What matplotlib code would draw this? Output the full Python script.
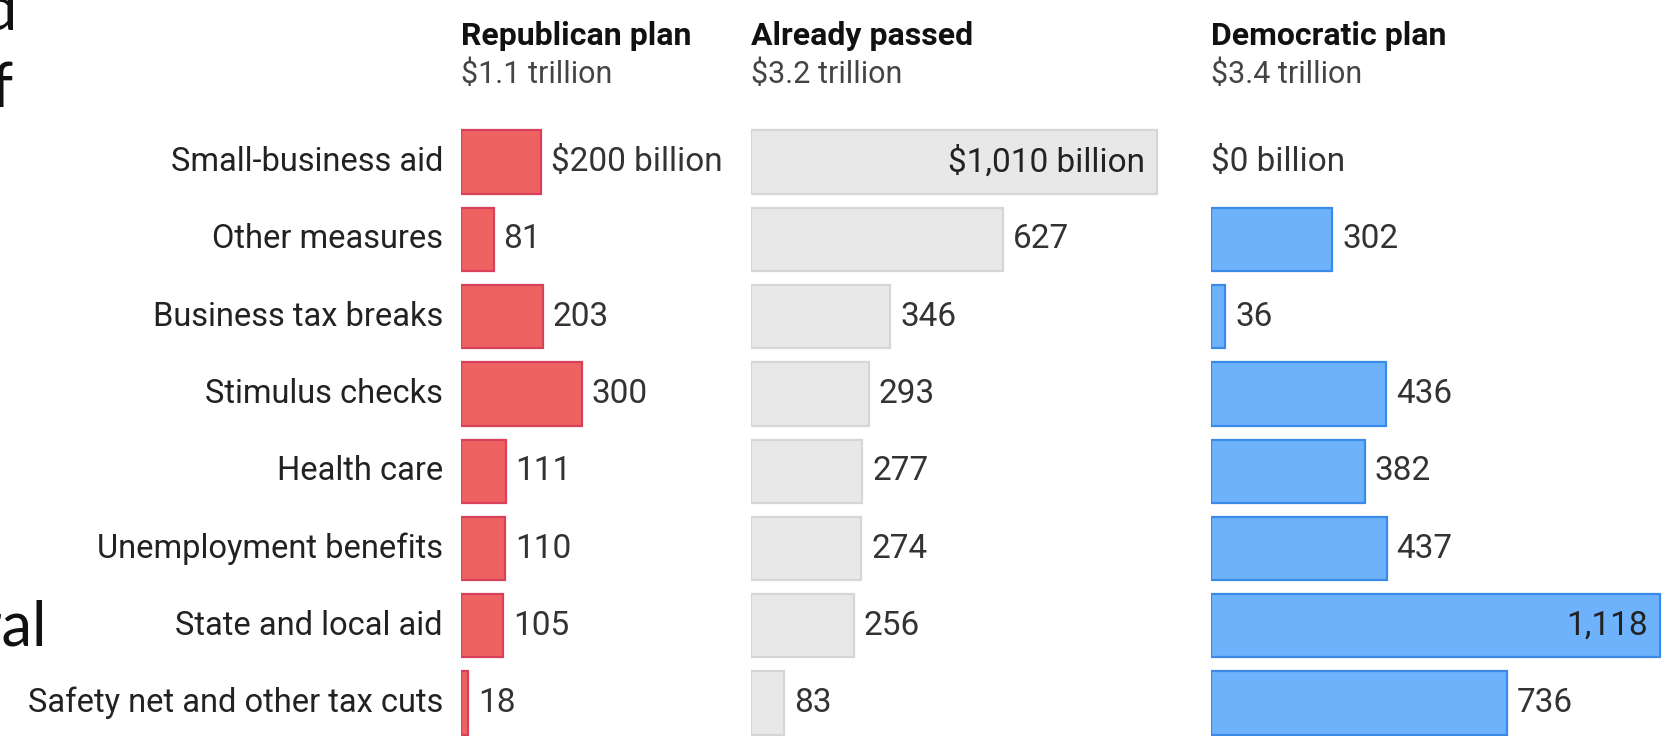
import matplotlib
matplotlib.use("Agg")
import matplotlib.pyplot as plt

# data (billions of dollars)
categories = ["Small-business aid", "Other measures", "Business tax breaks", "Stimulus checks",
              "Health care", "Unemployment benefits", "State and local aid", "Safety net and other tax cuts"]
republican = [200, 81, 203, 300, 111, 110, 105, 18]
passed = [1010, 627, 346, 293, 277, 274, 256, 83]
democratic = [0, 302, 36, 436, 382, 437, 1118, 736]
titles = ["Republican plan", "Already passed", "Democratic plan"]
totals = ["$1.1 trillion", "$3.2 trillion", "$3.4 trillion"]

W, H = 1668, 736
PX_PER_BN = 0.402
ROW0, PITCH = 162, 77.3

plt.rcParams["font.family"] = ["Roboto", "DejaVu Sans"]
fig = plt.figure(figsize=(W / 100, H / 100), dpi=100)
fig.patch.set_facecolor("white")

panels = [
    # left px, width px, fill, edge, values
    (461, 250, "#ee6262", "#d9415a", republican),
    (751, 450, "#e8e8e8", "#d6d6d6", passed),
    (1211, 457, "#6db2fa", "#3a8ae8", democratic),
]

ylim = ((H - ROW0) / PITCH, -ROW0 / PITCH)
for k, (left, width, fc, ec, vals) in enumerate(panels):
    ax = fig.add_axes([left / W, 0, width / W, 1])
    ax.set_xlim(0, width / PX_PER_BN)
    ax.set_ylim(*ylim)
    ax.axis("off")
    lw = [0 if v == 0 else 1.6 for v in vals]
    ax.barh(range(len(vals)), vals, height=0.82, left=0, color=fc, edgecolor=ec, linewidth=lw)
    for i, v in enumerate(vals):
        s = f"{v:,}"
        if i == 0:
            s = f"${s} billion"
        if v > 900:
            ax.text(v - 12 / PX_PER_BN, i, s, ha="right", va="center", fontsize=24, color="#222222")
        else:
            pad = 10 / PX_PER_BN if v > 0 else 0
            ax.text(v + pad, i, s, ha="left", va="center", fontsize=24, color="#333333")
    fig.text(left / W, 1 - 45 / H, titles[k], fontsize=23, fontweight="bold", color="#111111",
             ha="left", va="baseline")
    fig.text(left / W, 1 - 83 / H, totals[k], fontsize=22, color="#444444", ha="left", va="baseline")

lab = fig.add_axes([0, 0, 443 / W, 1])
lab.set_xlim(0, 443)
lab.set_ylim(*ylim)
lab.axis("off")
for i, c in enumerate(categories):
    lab.text(443, i, c, ha="right", va="center", fontsize=23.5, color="#222222")

# fragments of the neighbouring slide text at the left edge
for s, x, y in [("nd", 18, 30), ("of", 14, 107), ("eral", 47, 645)]:
    fig.text(x / W, 1 - y / H, s, fontsize=44, family=["Lato", "DejaVu Sans"], color="#111111",
             ha="right", va="baseline")

fig.savefig("out.png", dpi=100)
